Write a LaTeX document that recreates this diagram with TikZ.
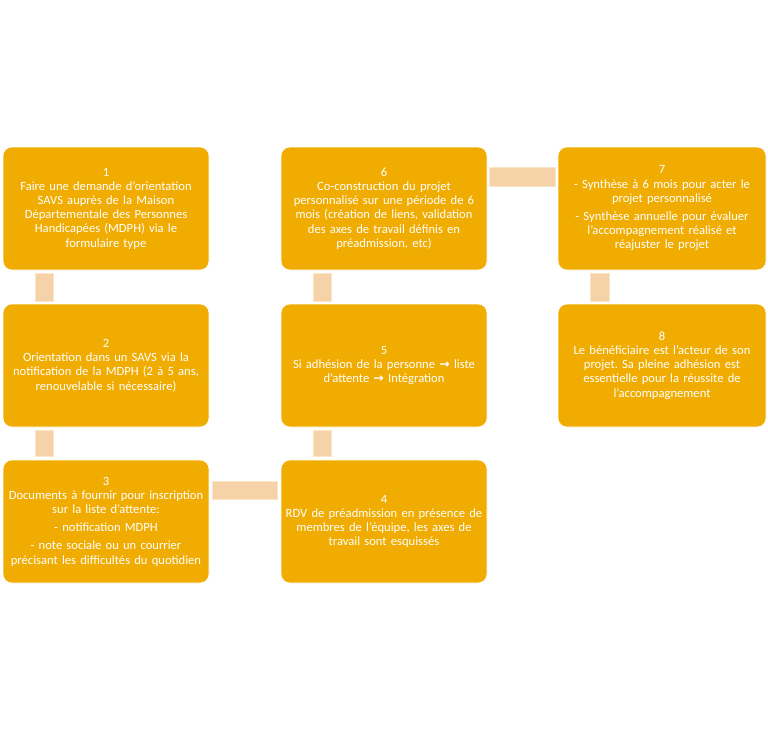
\documentclass[tikz,border=0pt]{standalone}
\usepackage{fontspec}
\setmainfont{Carlito}
\newfontfamily\symfont{DejaVu Sans}
\definecolor{boxfill}{RGB}{240,172,0}
\definecolor{connfill}{RGB}{246,210,168}
\definecolor{connline}{RGB}{251,228,200}
\newcommand{\arr}{{\symfont\bfseries\fontsize{12.5}{12}\selectfont →}}
\frenchspacing
\begin{document}
\begin{tikzpicture}[x=1pt,y=-1pt,
  stepbox/.style={rectangle, rounded corners=9pt, fill=boxfill, draw=white, line width=0.6pt,
    minimum width=206pt, minimum height=123pt, text width=204pt, align=center, text=white,
    font=\fontsize{12.6}{14.2}\selectfont, inner sep=0pt},
  conn/.style={fill=connfill, draw=connline, line width=0.8pt}]
\useasboundingbox (0,0) rectangle (768,731);
\node[stepbox] (b1) at (106,208.5) {1\\Faire une demande d’orientation\\SAVS auprès de la Maison\\Départementale des Personnes\\Handicapées (MDPH) via le\\formulaire type};
\node[stepbox] (b2) at (106,365.5) {2\\Orientation dans un SAVS via la\\notification de la MDPH (2 à 5 ans,\\renouvelable si nécessaire)};
\node[stepbox] (b3) at (106,521.5) {3\\Documents à fournir pour inscription\\sur la liste d’attente:\\[4pt]- notification MDPH\\[4pt]- note sociale ou un courrier\\précisant les difficultés du quotidien};
\node[stepbox] (b4) at (384,521.5) {4\\RDV de préadmission en présence de\\membres de l’équipe, les axes de\\travail sont esquissés};
\node[stepbox] (b5) at (384,365.5) {5\\Si adhésion de la personne \arr{} liste\\d’attente \arr{} Intégration};
\node[stepbox] (b6) at (384,208.5) {6\\Co-construction du projet\\personnalisé sur une période de 6\\mois (création de liens, validation\\des axes de travail définis en\\préadmission, etc)};
\node[stepbox, minimum width=208pt] (b7) at (662,208.5) {7\\- Synthèse à 6 mois pour acter le\\projet personnalisé\\[4pt]- Synthèse annuelle pour évaluer\\l’accompagnement réalisé et\\réajuster le projet};
\node[stepbox, minimum width=208pt] (b8) at (662,365.5) {8\\Le bénéficiaire est l’acteur de son\\projet. Sa pleine adhésion est\\essentielle pour la réussite de\\l’accompagnement};
% connectors
\draw[conn] ([xshift=-71pt,yshift=-3pt]b1.south) rectangle ([xshift=-53pt,yshift=2pt]b2.north);
\draw[conn] ([xshift=-71pt,yshift=-3pt]b2.south) rectangle ([xshift=-53pt,yshift=3pt]b3.north);
\draw[conn] ([xshift=3pt,yshift=22.5pt]b3.east) rectangle ([xshift=-3pt,yshift=40.5pt]b4.west);
\draw[conn] ([xshift=-71pt,yshift=3pt]b4.north) rectangle ([xshift=-53pt,yshift=-3pt]b5.south);
\draw[conn] ([xshift=-71pt,yshift=2pt]b5.north) rectangle ([xshift=-53pt,yshift=-3pt]b6.south);
\draw[conn] ([xshift=2pt,yshift=22.5pt]b6.east) rectangle ([xshift=-2pt,yshift=41.5pt]b7.west);
\draw[conn] ([xshift=-72pt,yshift=-3pt]b7.south) rectangle ([xshift=-53pt,yshift=2pt]b8.north);
\end{tikzpicture}
\end{document}
